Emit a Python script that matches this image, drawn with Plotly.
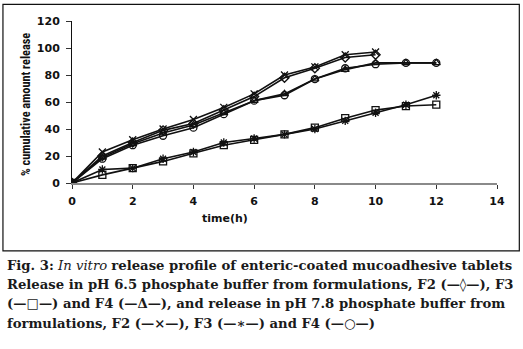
import plotly.graph_objects as go

# ---- data ----
time_h = [0, 1, 2, 3, 4, 5, 6, 7, 8, 9, 10, 11, 12]
time_f2 = [0, 1, 2, 3, 4, 5, 6, 7, 8, 9, 10]

f2_ph65 = [0, 20, 30, 39, 44, 54, 64, 78, 85, 93, 95]
f3_ph65 = [0, 6, 11, 16, 22, 28, 32, 36, 41, 48, 54, 57, 58]
f4_ph65 = [0, 19, 29, 37, 43, 52, 61, 66, 77, 84, 89, 89, 89]
f2_ph78 = [0, 23, 32, 40, 47, 56, 66, 80, 86, 95, 97]
f3_ph78 = [0, 10, 11, 18, 23, 30, 33, 36, 40, 46, 52, 58, 65]
f4_ph78 = [0, 18, 28, 35, 41, 51, 61, 65, 77, 85, 88, 89, 89]

x_ticks = [0, 2, 4, 6, 8, 10, 12, 14]
y_ticks = [0, 20, 40, 60, 80, 100, 120]

caption_lines = [
    "<b>Fig. 3:</b> <i>In vitro</i> <b>release profile of enteric-coated mucoadhesive tablets</b>",
    "<b>Release in pH 6.5 phosphate buffer from formulations, F2 (\u2014\u25ca\u2014), F3</b>",
    "<b>(\u2014\u25a1\u2014) and F4 (\u2014\u0394\u2014), and release in pH 7.8 phosphate buffer from</b>",
    "<b>formulations, F2 (\u2014\u00d7\u2014), F3 (\u2014\u2217\u2014) and F4 (\u2014\u25cb\u2014)</b>",
]

# ---- geometry (pixels) ----
W, H = 523, 349
L, R, T, B = 72, 496.7, 20.7, 183.0
pw, ph = R - L, B - T

def xp(px):
    return (px - L) / pw

def yp(py):
    return (B - py) / ph

fig = go.Figure()

series = [
    (time_f2, f2_ph65, "diamond-open", "F2 pH 6.5"),
    (time_h, f3_ph65, "square-open", "F3 pH 6.5"),
    (time_h, f4_ph65, "triangle-up-open", "F4 pH 6.5"),
    (time_f2, f2_ph78, "x-thin-open", "F2 pH 7.8"),
    (time_h, f3_ph78, "asterisk-open", "F3 pH 7.8"),
    (time_h, f4_ph78, "circle-open", "F4 pH 7.8"),
]
for xs, ys, sym, name in series:
    fig.add_trace(go.Scatter(
        x=xs, y=ys, mode="lines+markers", name=name,
        line=dict(color="#111111", width=1.6),
        marker=dict(symbol=sym, size=7, color="#111111", line=dict(width=1.3)),
        showlegend=False,
    ))

tick_font = dict(family="DejaVu Sans", size=11, color="#111111", weight="bold")

fig.update_layout(
    width=W, height=H,
    margin=dict(l=L, r=W - R, t=T, b=H - B, pad=0),
    paper_bgcolor="white", plot_bgcolor="white",
    xaxis=dict(
        range=[0, 14], tickvals=x_ticks, ticktext=[str(v) for v in x_ticks],
        showgrid=False, zeroline=False,
        showline=True, linecolor="#8a8a8a", linewidth=2,
        ticks="outside", ticklen=4, tickcolor="#333333", tickwidth=1,
        tickfont=tick_font, ticklabelstandoff=3,
    ),
    yaxis=dict(
        range=[0, 120], tickvals=y_ticks, ticktext=[str(v) for v in y_ticks],
        showgrid=False, zeroline=False,
        showline=True, linecolor="#111111", linewidth=1,
        ticks="outside", ticklen=5, tickcolor="#333333", tickwidth=1,
        tickfont=tick_font, ticklabelstandoff=4,
    ),
)

annotations = [
    dict(text="% cumulative amount release", xref="paper", yref="paper",
         x=xp(26), y=yp(104), textangle=-90, showarrow=False,
         xanchor="center", yanchor="middle",
         font=dict(family="Liberation Sans Narrow, Roboto Condensed, Roboto", size=12.3,
                   color="#111111", weight="bold")),
    dict(text="<b>time(h)</b>", xref="paper", yref="paper",
         x=xp(225), y=yp(219), showarrow=False,
         xanchor="center", yanchor="middle",
         font=dict(family="DejaVu Sans", size=11, color="#111111")),
]
line_centers = [266, 285, 304, 324]
for txt, cy in zip(caption_lines, line_centers):
    annotations.append(dict(
        text=txt, xref="paper", yref="paper", x=xp(5), y=yp(cy),
        xanchor="left", yanchor="middle", showarrow=False,
        font=dict(family="DejaVu Serif", size=13.2, color="#1a1a1a")))
fig.update_layout(annotations=annotations)

fig.add_shape(type="rect", xref="paper", yref="paper",
              x0=xp(3), x1=xp(519), y0=yp(251), y1=yp(4),
              line=dict(color="#111111", width=1.2), layer="below")

fig.write_html("out.html")
